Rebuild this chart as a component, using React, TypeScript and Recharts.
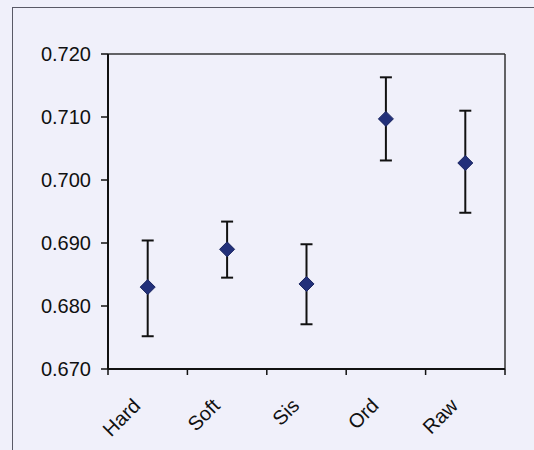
import React from "react"
import {
    ComposedChart,
    Scatter,
    ErrorBar,
    XAxis,
    YAxis,
    ReferenceLine,
} from "recharts"

const categories = ["Hard", "Soft", "Sis", "Ord", "Raw"]
const means = [0.683, 0.689, 0.6835, 0.7097, 0.7027]
const errLow = [0.0078, 0.0045, 0.0064, 0.0066, 0.0079]
const errHigh = [0.0074, 0.0044, 0.0063, 0.0066, 0.0083]
const yTicks = [0.67, 0.68, 0.69, 0.7, 0.71, 0.72]
const yDomain = [0.67, 0.72]

const W = 534
const H = 450
const MARGIN = { top: 54, right: 29, bottom: 0, left: 0 }
const Y_AXIS_W = 108
const X_AXIS_H = 81
const PLOT_W = W - MARGIN.left - MARGIN.right - Y_AXIS_W

const BG = "#f0f0fa"
const FONT = "'Liberation Sans', Arial, sans-serif"

// points sit in the middle of each category slot, ticks on the slot edges
const data = categories.map((name, i) => ({
    name,
    x: i + 0.5,
    y: means[i],
    err: [errLow[i], errHigh[i]],
}))
const xTicks = categories.map((_, i) => i).concat(categories.length)

function Diamond(props: any) {
    const { cx, cy } = props
    if (cx == null || cy == null) return null
    const r = 7.5
    return (
        <polygon
            points={`${cx},${cy - r} ${cx + r},${cy} ${cx},${cy + r} ${cx - r},${cy}`}
            fill="#22307a"
            stroke="#1a2560"
            strokeWidth={1}
        />
    )
}

function CategoryTick(props: any) {
    const { x, y, payload } = props
    const label = categories[payload.value]
    if (!label) return null
    const half = PLOT_W / categories.length / 2
    const tx = x + half - 6
    const ty = y + 32
    return (
        <text
            x={tx}
            y={ty}
            transform={`rotate(-45, ${tx}, ${ty})`}
            textAnchor="end"
            fontSize={20}
            fontFamily={FONT}
            fill="#111"
        >
            {label}
        </text>
    )
}

export default function App() {
    return (
        <div
            style={{
                position: "absolute",
                left: 0,
                top: 0,
                width: W,
                height: H,
                background: BG,
                overflow: "hidden",
            }}
        >
            {/* outer frame */}
            <div
                style={{
                    position: "absolute",
                    left: 12,
                    top: 7,
                    width: W,
                    height: H,
                    borderLeft: "1.5px solid #5a5a66",
                    borderTop: "1.5px solid #5a5a66",
                }}
            />
            <div style={{ position: "absolute", left: 0, top: 0 }}>
                <ComposedChart width={W} height={H} data={data} margin={MARGIN}>
                    <XAxis
                        type="number"
                        dataKey="x"
                        domain={[0, categories.length]}
                        ticks={xTicks}
                        interval={0}
                        height={X_AXIS_H}
                        tickSize={6}
                        tickMargin={0}
                        tick={<CategoryTick />}
                        tickLine={{ stroke: "#111", strokeWidth: 1.5 }}
                        axisLine={{ stroke: "#111", strokeWidth: 2 }}
                    />
                    <YAxis
                        type="number"
                        domain={yDomain}
                        ticks={yTicks}
                        interval={0}
                        width={Y_AXIS_W}
                        tickSize={7}
                        tickMargin={10}
                        tickFormatter={(v: number) => v.toFixed(3)}
                        tick={{ fontSize: 20, fontFamily: FONT, fill: "#111" }}
                        tickLine={{ stroke: "#111", strokeWidth: 1.5 }}
                        axisLine={{ stroke: "#111", strokeWidth: 2 }}
                    />
                    {/* plot area box: top and right edges */}
                    <ReferenceLine y={yDomain[1]} stroke="#333" strokeWidth={1.5} />
                    <ReferenceLine x={categories.length} stroke="#333" strokeWidth={1.5} />
                    <Scatter dataKey="y" shape={<Diamond />} isAnimationActive={false}>
                        <ErrorBar
                            dataKey="err"
                            direction="y"
                            width={6}
                            stroke="#111"
                            strokeWidth={2}
                            isAnimationActive={false}
                        />
                    </Scatter>
                </ComposedChart>
            </div>
        </div>
    )
}
